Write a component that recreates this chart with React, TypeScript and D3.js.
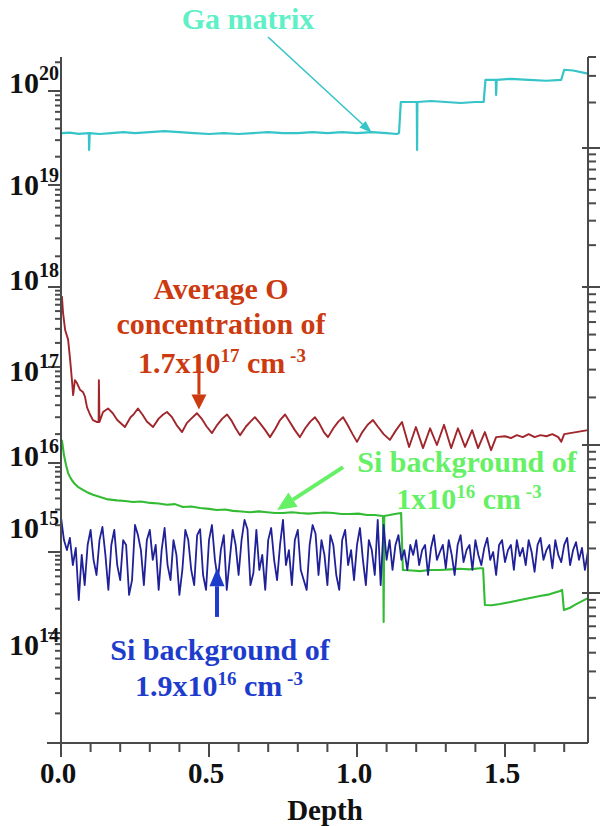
import React from "react";
import * as d3 from "d3";

// ---------- data ----------
// Ga matrix signal (depth, concentration cm^-3)
const gaDepth = [0.003, 0.03, 0.06, 0.094, 0.095, 0.097, 0.13, 0.17, 0.21, 0.25, 0.3, 0.35, 0.4, 0.45, 0.5, 0.55, 0.6, 0.65, 0.7, 0.75, 0.8, 0.85, 0.9, 0.95, 1.0, 1.05, 1.1, 1.135, 1.142, 1.148, 1.2, 1.202, 1.203, 1.204, 1.25, 1.3, 1.35, 1.4, 1.428, 1.434, 1.469, 1.47, 1.472, 1.52, 1.58, 1.64, 1.69, 1.7, 1.73, 1.78];
const gaMatrix = [3.57e19, 3.6e19, 3.5e19, 3.57e19, 2.36e19, 3.57e19, 3.49e19, 3.57e19, 3.66e19, 3.57e19, 3.66e19, 3.75e19, 3.66e19, 3.57e19, 3.49e19, 3.57e19, 3.49e19, 3.57e19, 3.66e19, 3.57e19, 3.57e19, 3.66e19, 3.57e19, 3.66e19, 3.57e19, 3.66e19, 3.57e19, 3.49e19, 3.57e19, 7.64e19, 7.64e19, 7.64e19, 2.36e19, 7.64e19, 7.83e19, 7.64e19, 7.45e19, 7.64e19, 7.64e19, 1.31e20, 1.31e20, 9.06e19, 1.31e20, 1.34e20, 1.31e20, 1.28e20, 1.31e20, 1.67e20, 1.64e20, 1.52e20];

// Oxygen profile
const oDepth = [0.003, 0.007, 0.014, 0.024, 0.03, 0.037, 0.041, 0.047, 0.054, 0.064, 0.074, 0.081, 0.088, 0.098, 0.108, 0.122, 0.127, 0.128, 0.13, 0.142, 0.159, 0.175, 0.19, 0.216, 0.235, 0.245, 0.26, 0.275, 0.29, 0.311, 0.33, 0.345, 0.358, 0.375, 0.39, 0.409, 0.425, 0.44, 0.459, 0.475, 0.492, 0.51, 0.528, 0.545, 0.561, 0.575, 0.59, 0.605, 0.625, 0.64, 0.655, 0.672, 0.69, 0.706, 0.725, 0.74, 0.757, 0.772, 0.79, 0.807, 0.825, 0.842, 0.858, 0.872, 0.888, 0.902, 0.92, 0.937, 0.953, 0.968, 0.985, 1.0, 1.018, 1.036, 1.054, 1.07, 1.09, 1.111, 1.132, 1.152, 1.176, 1.199, 1.223, 1.247, 1.27, 1.294, 1.318, 1.341, 1.365, 1.389, 1.409, 1.432, 1.453, 1.47, 1.5, 1.52, 1.54, 1.56, 1.58, 1.6, 1.62, 1.64, 1.66, 1.68, 1.69, 1.7, 1.72, 1.74, 1.76, 1.78];
const oxygen = [7.7e17, 4.7e17, 2.9e17, 2.2e17, 1.33e17, 7.3e16, 5.1e16, 7.3e16, 6.8e16, 5.8e16, 5.5e16, 4.9e16, 3.8e16, 3.2e16, 2.8e16, 2.67e16, 2.67e16, 7.3e16, 2.67e16, 3.4e16, 3.7e16, 3.3e16, 2.8e16, 2.37e16, 3.0e16, 3.2e16, 3.7e16, 3.2e16, 2.7e16, 2.37e16, 2.9e16, 3.2e16, 3.4e16, 3.0e16, 2.5e16, 2.1e16, 2.6e16, 2.9e16, 3.3e16, 2.9e16, 2.4e16, 2.05e16, 2.5e16, 2.9e16, 3.2e16, 2.8e16, 2.3e16, 1.95e16, 2.4e16, 2.7e16, 3.0e16, 2.6e16, 2.2e16, 1.86e16, 2.3e16, 2.8e16, 3.2e16, 2.7e16, 2.2e16, 1.86e16, 2.3e16, 2.7e16, 3.0e16, 2.6e16, 2.1e16, 1.86e16, 2.3e16, 2.7e16, 3.0e16, 2.5e16, 2.0e16, 1.66e16, 2.1e16, 2.5e16, 2.8e16, 2.4e16, 2.0e16, 1.74e16, 2.2e16, 2.67e16, 1.47e16, 2.37e16, 1.43e16, 2.3e16, 1.54e16, 2.5e16, 1.43e16, 2.3e16, 1.47e16, 2.2e16, 1.43e16, 2.1e16, 1.36e16, 1.86e16, 1.9e16, 1.82e16, 1.95e16, 1.86e16, 2.0e16, 1.86e16, 1.95e16, 1.9e16, 2.0e16, 1.86e16, 1.66e16, 2.0e16, 2.05e16, 2.1e16, 2.15e16, 2.2e16];

// Si profile, sample 1 (green)
const siGreenDepth = [0.003, 0.01, 0.017, 0.024, 0.03, 0.037, 0.047, 0.057, 0.074, 0.088, 0.108, 0.132, 0.159, 0.189, 0.216, 0.243, 0.27, 0.301, 0.33, 0.358, 0.385, 0.412, 0.44, 0.47, 0.5, 0.527, 0.555, 0.581, 0.61, 0.639, 0.668, 0.696, 0.723, 0.75, 0.78, 0.807, 0.836, 0.865, 0.892, 0.919, 0.948, 0.976, 1.005, 1.034, 1.06, 1.088, 1.09, 1.092, 1.11, 1.128, 1.149, 1.155, 1.185, 1.213, 1.245, 1.28, 1.315, 1.348, 1.38, 1.416, 1.426, 1.432, 1.455, 1.483, 1.515, 1.551, 1.585, 1.618, 1.65, 1.686, 1.693, 1.699, 1.72, 1.736, 1.78];
const siGreen = [1.74e16, 1.21e16, 9.5e15, 7.7e15, 7.0e15, 6.4e15, 5.8e15, 5.4e15, 5.0e15, 4.7e15, 4.4e15, 4.15e15, 3.9e15, 3.8e15, 3.74e15, 3.65e15, 3.7e15, 3.56e15, 3.5e15, 3.4e15, 3.45e15, 3.2e15, 3.25e15, 3.12e15, 3.05e15, 2.96e15, 3.0e15, 2.9e15, 2.85e15, 2.8e15, 2.86e15, 2.8e15, 2.74e15, 2.74e15, 2.8e15, 2.74e15, 2.7e15, 2.74e15, 2.78e15, 2.74e15, 2.67e15, 2.67e15, 2.7e15, 2.6e15, 2.6e15, 2.54e15, 1.37e14, 2.54e15, 2.6e15, 2.67e15, 2.74e15, 6.0e14, 5.9e14, 5.8e14, 6.0e14, 6.0e14, 6.1e14, 6.2e14, 6.1e14, 6.3e14, 6.3e14, 2.22e14, 2.2e14, 2.28e14, 2.4e14, 2.55e14, 2.7e14, 2.86e14, 3.0e14, 3.3e14, 3.4e14, 1.92e14, 2.05e14, 2.22e14, 2.7e14];

// Si profile, sample 2 (blue), sampled every 0.01 depth from 0
const siBlueStep = 0.01;
const siBlue = [
  2.47e15, 1.36e15, 1.05e15, 1.44e15, 6.9e14, 1.11e15, 2.55e14, 9.2e14, 3.9e14, 1.2e15,
  1.77e15, 8.0e14, 5.2e14, 1.36e15, 1.91e15, 9.2e14, 3.4e14, 1.2e15, 1.77e15, 6.9e14,
  4.5e14, 1.36e15, 1.2e15, 2.95e14, 4.5e14, 2.01e15, 1.55e15, 1.05e15, 3.9e14, 1.36e15,
  1.77e15, 8.0e14, 1.2e15, 3.4e14, 1.05e15, 1.86e15, 6.9e14, 4.5e14, 1.36e15, 9.2e14,
  2.95e14, 6.0e14, 1.77e15, 1.36e15, 6.0e14, 3.9e14, 1.55e15, 1.8e15, 5.2e14, 3.4e14,
  1.36e15, 2.01e15, 8.0e14, 4.5e14, 1.05e15, 1.55e15, 3.4e14, 8.0e14, 1.77e15, 1.2e15,
  5.2e14, 1.36e15, 2.29e15, 1.8e15, 3.9e14, 5.5e14, 1.77e15, 6.0e14, 9.2e14, 3.4e14,
  1.36e15, 1.86e15, 8.0e14, 4.5e14, 1.2e15, 2.29e15, 6.9e14, 1.05e15, 3.9e14, 1.36e15,
  1.77e15, 6.0e14, 4.5e14, 3.4e14, 1.2e15, 2.01e15, 1.6e15, 5.2e14, 1.36e15, 9.2e14,
  3.9e14, 1.55e15, 1.2e15, 5.2e14, 3.4e14, 1.36e15, 1.77e15, 6.9e14, 1.05e15, 4.5e14,
  1.2e15, 1.86e15, 8.0e14, 3.9e14, 1.36e15, 1.05e15, 5.2e14, 2.29e15, 3.9e14, 2.01e15,
  8.0e14, 1.36e15, 6.0e14, 1.2e15, 1.55e15, 8.0e14, 1.05e15, 6.0e14, 1.2e15, 9.2e14,
  1.36e15, 6.9e14, 1.05e15, 1.2e15, 5.2e14, 1.11e15, 1.55e15, 8.0e14, 1.0e15, 1.2e15,
  6.3e14, 1.36e15, 9.2e14, 5.2e14, 1.2e15, 1.55e15, 7.5e14, 1.05e15, 1.2e15, 6.0e14,
  1.36e15, 9.2e14, 6.9e14, 1.11e15, 1.44e15, 8.0e14, 1.0e15, 5.2e14, 1.2e15, 1.36e15,
  7.5e14, 1.05e15, 1.2e15, 6.0e14, 1.36e15, 8.9e14, 1.11e15, 6.9e14, 1.36e15, 1.0e15,
  5.7e14, 1.2e15, 1.44e15, 8.0e14, 1.05e15, 1.2e15, 6.3e14, 1.36e15, 9.2e14, 7.5e14,
  1.2e15, 1.44e15, 6.9e14, 1.05e15, 1.29e15, 8.0e14, 1.11e15, 6.0e14, 1.0e15,
];

const xTickValues = [0, 0.1, 0.2, 0.3, 0.4, 0.5, 0.6, 0.7, 0.8, 0.9, 1.0, 1.1, 1.2, 1.3, 1.4, 1.5, 1.6, 1.7];
const xLabelValues = [0, 0.5, 1.0, 1.5];
const yDecades = [14, 15, 16, 17, 18, 19, 20];

// ---------- styles ----------
const FONT = "'Liberation Serif', 'Times New Roman', serif";
const AXIS = "#4a4a4a";
const C_GA_LINE = "#35c4c8";
const C_GA_TEXT = "#5ef0c6";
const C_O_LINE = "#a0262c";
const C_O_TEXT = "#cc3a10";
const C_G_LINE = "#33bb33";
const C_G_TEXT = "#66f066";
const C_B_LINE = "#202098";
const C_B_TEXT = "#1e3ccc";

// per-label vertical nudge of the decade labels (composite axis)
const labelNudge: Record<number, number> = { 14: 22, 15: -14, 16: 3, 17: 14, 18: 3, 19: 10, 20: 2 };

function Arrow({ x1, y1, x2, y2, color, width, headLen, headW }: any) {
  const ang = Math.atan2(y2 - y1, x2 - x1);
  const bx = x2 - headLen * Math.cos(ang);
  const by = y2 - headLen * Math.sin(ang);
  const px = Math.cos(ang + Math.PI / 2) * headW / 2;
  const py = Math.sin(ang + Math.PI / 2) * headW / 2;
  return (
    <g>
      <line x1={x1} y1={y1} x2={bx} y2={by} stroke={color} strokeWidth={width} />
      <polygon points={`${x2},${y2} ${bx + px},${by + py} ${bx - px},${by - py}`} fill={color} />
    </g>
  );
}

export default function App() {
  const x = d3.scaleLinear().domain([0, 1.8]).range([61, 593.8]);
  const yL = d3
    .scaleLog()
    .domain([1e13, 1e14, 1e15, 1e16, 1e17, 1e18, 1e19, 1e20, 2.5e20])
    .range([748, 633, 552, 463, 367, 287, 185, 91, 53]);
  const yR = d3.scaleLog().domain([1, 10, 100, 1e3, 1e4, 4e4]).range([743, 593, 445, 287, 148, 57]);

  const line = d3
    .line<[number, number]>()
    .x((d) => x(d[0]))
    .y((d) => yL(d[1]));
  const zip = (ds: number[], vs: number[]) => ds.map((d, i) => [d, vs[i]] as [number, number]);

  const gaPath = line(zip(gaDepth, gaMatrix)) || "";
  const oPath = line(zip(oDepth, oxygen)) || "";
  const gPath = line(zip(siGreenDepth, siGreen)) || "";
  const bPath = line(siBlue.map((v, i) => [i * siBlueStep, v] as [number, number])) || "";

  const yTop = 57;
  const yBot = 743;
  const xLeft = x(0);
  const xRight = 588;

  const leftTicks: { y: number; major: boolean }[] = [];
  for (let k = 13; k <= 20; k++) {
    for (let m = 1; m <= 9; m++) {
      const yy = yL(m * Math.pow(10, k));
      if (yy >= yTop && yy <= yBot) leftTicks.push({ y: yy, major: m === 1 });
    }
  }
  const rightTicks: { y: number; major: boolean }[] = [];
  for (let k = 0; k <= 4; k++) {
    for (let m = 1; m <= 9; m++) {
      const yy = yR(m * Math.pow(10, k));
      if (yy >= yTop - 0.5 && yy < yBot - 1) rightTicks.push({ y: yy, major: m === 1 });
    }
  }

  const fmt = d3.format(".1f");

  return (
    <svg
      width={600}
      height={826}
      style={{ position: "absolute", left: 0, top: 0, display: "block", background: "#fff" }}
      fontFamily={FONT}
      fontWeight="bold"
    >
      <rect x={0} y={0} width={600} height={826} fill="#fff" />

      {/* data */}
      <path d={gaPath} fill="none" stroke={C_GA_LINE} strokeWidth={2.2} strokeLinejoin="round" />
      <path d={oPath} fill="none" stroke={C_O_LINE} strokeWidth={1.9} strokeLinejoin="round" />
      <path d={gPath} fill="none" stroke={C_G_LINE} strokeWidth={2.1} strokeLinejoin="round" />
      <path d={bPath} fill="none" stroke={C_B_LINE} strokeWidth={1.8} strokeLinejoin="round" />

      {/* left axis */}
      <line x1={xLeft} y1={yTop} x2={xLeft} y2={757} stroke={AXIS} strokeWidth={2} />
      {leftTicks.map((t, i) => (
        <line key={"lt" + i} x1={t.major ? 48 : 55} x2={xLeft} y1={t.y} y2={t.y} stroke={AXIS} strokeWidth={2} />
      ))}
      {yDecades.map((k) => {
        const yy = yL(Math.pow(10, k)) + labelNudge[k];
        return (
          <text key={"yl" + k} x={9} y={yy} fontSize={30} fill="#111">
            10
            <tspan dy={-13} fontSize={20}>
              {k}
            </tspan>
          </text>
        );
      })}

      {/* right axis */}
      <line x1={xRight} y1={yTop} x2={xRight} y2={yBot} stroke={AXIS} strokeWidth={2} />
      {rightTicks.map((t, i) => (
        <line key={"rt" + i} x1={t.major ? 582 : xRight} x2={t.major ? 600 : 596} y1={t.y} y2={t.y} stroke={AXIS} strokeWidth={2} />
      ))}

      {/* bottom axis */}
      <line x1={47} y1={yBot} x2={xRight} y2={yBot} stroke={AXIS} strokeWidth={2} />
      {xTickValues.map((v, i) => {
        const major = xLabelValues.some((l) => Math.abs(l - v) < 1e-6);
        return <line key={"xt" + i} x1={x(v)} x2={x(v)} y1={yBot} y2={yBot + (major ? 14 : 9)} stroke={AXIS} strokeWidth={2} />;
      })}
      {xLabelValues.map((v) => (
        <text key={"xl" + v} x={x(v) - 3} y={783} fontSize={29} textAnchor="middle" fill="#111">
          {fmt(v)}
        </text>
      ))}
      <text x={325} y={820} fontSize={29} textAnchor="middle" fill="#111">
        Depth
      </text>

      {/* Ga annotation */}
      <text x={248} y={29} fontSize={30} textAnchor="middle" fill={C_GA_TEXT}>
        Ga matrix
      </text>
      <Arrow x1={268} y1={37} x2={x(1.051)} y2={yL(3.57e19)} color={C_GA_LINE} width={1.6} headLen={13} headW={9} />

      {/* O annotation */}
      <text x={221} y={299} fontSize={30} textAnchor="middle" fill={C_O_TEXT}>
        Average O
      </text>
      <text x={221} y={334} fontSize={30} textAnchor="middle" fill={C_O_TEXT}>
        concentration of
      </text>
      <text x={222} y={373} fontSize={30} textAnchor="middle" fill={C_O_TEXT}>
        1.7x10
        <tspan dy={-11} fontSize={19}>17</tspan>
        <tspan dy={11}> cm</tspan>
        <tspan dy={-11} fontSize={19}> -3</tspan>
      </text>
      <Arrow x1={x(0.466)} y1={yL(1.33e17)} x2={x(0.466)} y2={yL(3.6e16)} color={C_O_TEXT} width={3} headLen={15} headW={15} />

      {/* green Si annotation */}
      <text x={467} y={472} fontSize={30} textAnchor="middle" fill={C_G_TEXT}>
        Si background of
      </text>
      <text x={469} y={509} fontSize={30} textAnchor="middle" fill={C_G_TEXT}>
        1x10
        <tspan dy={-11} fontSize={19}>16</tspan>
        <tspan dy={11}> cm</tspan>
        <tspan dy={-11} fontSize={19}> -3</tspan>
      </text>
      <Arrow x1={x(0.953)} y1={yL(9.0e15)} x2={x(0.73)} y2={yL(2.96e15)} color={C_G_TEXT} width={4} headLen={19} headW={17} />

      {/* blue Si annotation */}
      <text x={220} y={660} fontSize={30} textAnchor="middle" fill={C_B_TEXT}>
        Si background of
      </text>
      <text x={219} y={696} fontSize={30} textAnchor="middle" fill={C_B_TEXT}>
        1.9x10
        <tspan dy={-11} fontSize={19}>16</tspan>
        <tspan dy={11}> cm</tspan>
        <tspan dy={-11} fontSize={19}> -3</tspan>
      </text>
      <Arrow x1={x(0.527)} y1={yL(1.58e14)} x2={x(0.527)} y2={yL(6.3e14)} color={C_B_TEXT} width={4} headLen={18} headW={15} />
    </svg>
  );
}
